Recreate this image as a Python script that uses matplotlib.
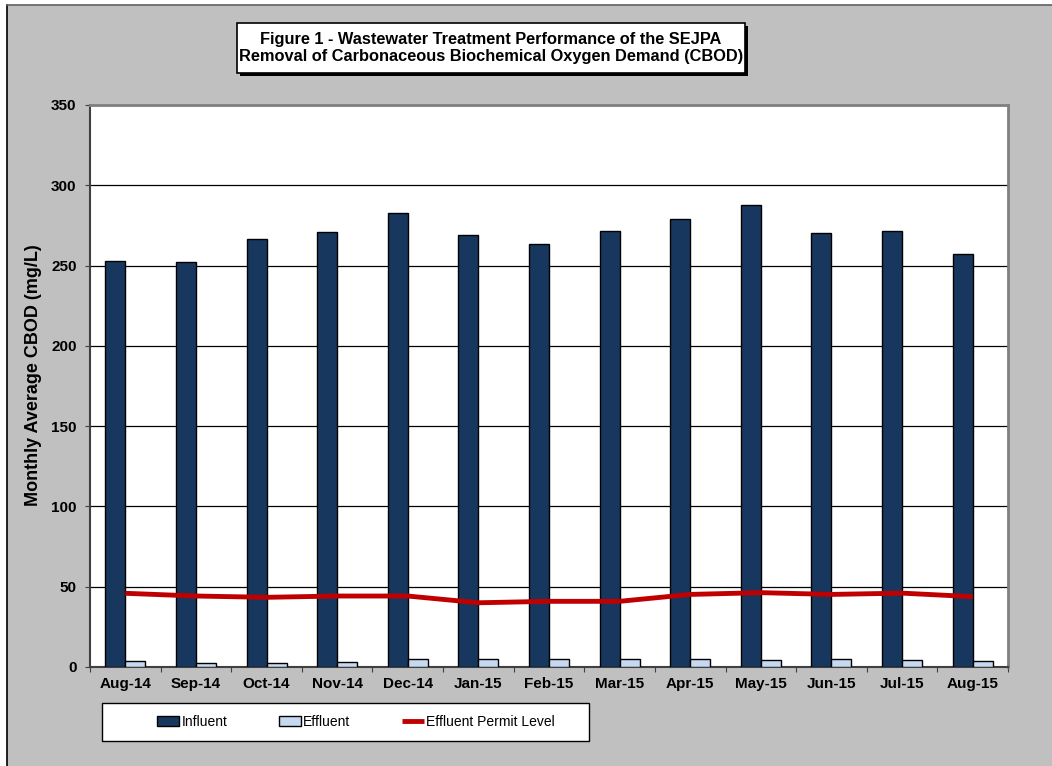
import numpy as np
import matplotlib.pyplot as plt
from matplotlib.patches import Rectangle

months = ["Aug-14", "Sep-14", "Oct-14", "Nov-14", "Dec-14", "Jan-15", "Feb-15",
          "Mar-15", "Apr-15", "May-15", "Jun-15", "Jul-15", "Aug-15"]
influent = [253, 252, 266.5, 271, 282.5, 269, 263.5, 271.5, 279, 287.5, 270.5, 271.5, 257]
effluent = [3.7, 2.3, 2.3, 2.9, 4.8, 5.0, 5.0, 5.0, 4.8, 4.4, 4.8, 4.1, 3.7]
permit = [45.9, 44.2, 43.4, 44.2, 44.2, 40.0, 40.9, 40.9, 45.2, 46.3, 45.2, 46.0, 43.8]

plt.rcParams['font.family'] = ['Liberation Sans', 'DejaVu Sans']

W, H = 1052, 766


def fx(px):
    return px / W


def fy(py):
    return 1 - py / H


fig = plt.figure(figsize=(10.52, 7.66), dpi=100)
fig.patch.set_facecolor('white')
# grey chart area with border lines
fig.patches.append(Rectangle((fx(7), 0), 1, fy(5), transform=fig.transFigure,
                             facecolor='#C0C0C0', edgecolor='none', zorder=-2))
fig.add_artist(plt.Line2D([fx(7), fx(7)], [0, fy(5)], color='black', lw=1.2))
fig.add_artist(plt.Line2D([fx(7), 1], [fy(5), fy(5)], color='#606060', lw=1.2))

ax = fig.add_axes([fx(90), fy(667), (1008 - 90) / W, (667 - 105) / H])
ax.set_facecolor('white')

x = np.arange(len(months))
w = 0.283
b1 = ax.bar(x - w / 2, influent, w, color='#17375E', edgecolor='black', lw=1, label='Influent', zorder=3)
b2 = ax.bar(x + w / 2, effluent, w, color='#C6D9F1', edgecolor='black', lw=1, label='Effluent', zorder=3)
ln, = ax.plot(x, permit, color='#C00000', lw=3.5, solid_capstyle='butt',
              solid_joinstyle='round', label='Effluent Permit Level', zorder=4)

ax.set_xlim(-0.5, len(months) - 0.5)
ax.set_ylim(0, 350)
ax.set_yticks(range(0, 351, 50))
ax.yaxis.grid(True, color='black', lw=0.9, zorder=1)
ax.set_axisbelow(True)

ax.set_xticks(np.arange(-0.5, len(months), 1), minor=False)
ax.set_xticklabels([])
ax.set_xticks(x, minor=True)
ax.set_xticklabels(months, minor=True, fontsize=11, fontweight='bold')
ax.tick_params(axis='x', which='minor', length=0, pad=7)
ax.tick_params(axis='x', which='major', length=3.6, direction='out', color='#404040')
ax.tick_params(axis='y', length=3.6, direction='out', color='#404040', labelsize=11, pad=6)
for lab in ax.get_yticklabels():
    lab.set_fontweight('bold')

for s in ['left', 'bottom']:
    ax.spines[s].set_color('#404040')
    ax.spines[s].set_linewidth(1.5)
for s in ['top', 'right']:
    ax.spines[s].set_color('#808080')
    ax.spines[s].set_linewidth(2)

ax.set_ylabel('Monthly Average CBOD (mg/L)', fontsize=13, fontweight='bold')
ax.yaxis.set_label_coords(-0.052, 0.52)

# title box with shadow
fig.patches.append(Rectangle((fx(240), fy(76)), 508 / W, 50 / H, transform=fig.transFigure,
                             facecolor='black', edgecolor='none', zorder=1))
fig.patches.append(Rectangle((fx(237), fy(73)), 508 / W, 50 / H, transform=fig.transFigure,
                             facecolor='white', edgecolor='black', lw=1.2, zorder=2))
fig.text(fx(491), fy(48),
         'Figure 1 - Wastewater Treatment Performance of the SEJPA\n'
         'Removal of Carbonaceous Biochemical Oxygen Demand (CBOD)',
         ha='center', va='center', fontsize=11.75, fontweight='bold', linespacing=1.15,
         zorder=5)

# legend frame drawn separately, wider than the entries
fig.patches.append(Rectangle((fx(102), fy(741)), 487 / W, 38 / H, transform=fig.transFigure,
                             facecolor='white', edgecolor='black', lw=1, zorder=2))
leg = fig.legend(handles=[b1, b2, ln], loc='center left',
                 bbox_to_anchor=(fx(157), fy(722)), ncol=3, frameon=False,
                 handlelength=1.6, handletextpad=0.15, columnspacing=3.7,
                 borderpad=0, borderaxespad=0, fontsize=10)
leg.set_zorder(3)

fig.savefig('out.png', dpi=100, facecolor=fig.get_facecolor())
